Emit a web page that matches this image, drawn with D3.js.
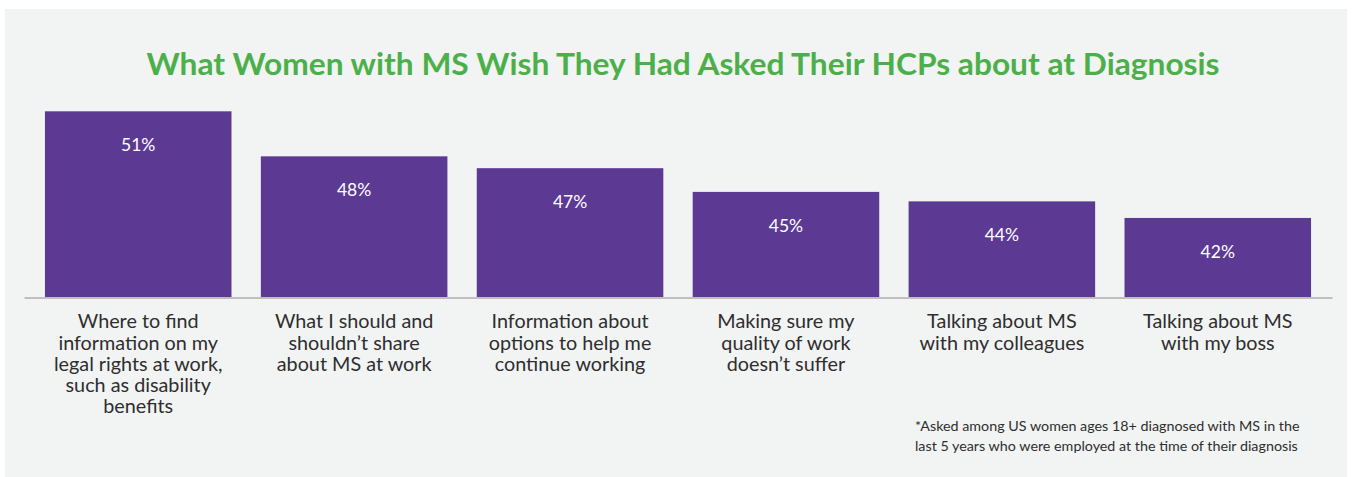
<!DOCTYPE html>
<html>
<head>
<meta charset="utf-8">
<script src="https://cdn.jsdelivr.net/npm/d3@7/dist/d3.min.js"></script>
<style>
  html, body { margin: 0; padding: 0; background: #ffffff; }
  svg { display: block; }
  text { font-family: Lato, "Open Sans", "DejaVu Sans", sans-serif; }
</style>
</head>
<body>
<svg id="chart" width="1359" height="477"></svg>
<script>
// ---- data ----
const title = "What Women with MS Wish They Had Asked Their HCPs about at Diagnosis";
const categories = [
  "Where to find\ninformation on my\nlegal rights at work,\nsuch as disability\nbenefits",
  "What I should and\nshouldn\u2019t share\nabout MS at work",
  "Information about\noptions to help me\ncontinue working",
  "Making sure my\nquality of work\ndoesn\u2019t suffer",
  "Talking about MS\nwith my colleagues",
  "Talking about MS\nwith my boss"
];
const values = [51.4, 47.6, 46.6, 44.6, 43.8, 42.4];
const footnote = [
  "*Asked among US women ages 18+ diagnosed with MS in the",
  "last 5 years who were employed at the time of their diagnosis"
];

// ---- layout ----
const W = 1359, H = 477;
const svg = d3.select("#chart");

svg.append("rect")
  .attr("x", 5).attr("y", 9)
  .attr("width", 1342).attr("height", H - 9)
  .attr("fill", "#f2f3f3");

const baseY = 297;
const x = d3.scaleBand()
  .domain(categories)
  .range([24, 1332])
  .paddingInner(0.136)
  .paddingOuter(0.097);

const y = d3.scaleLinear()
  .domain([35.73, 52])
  .range([baseY, baseY - (52 - 35.73) * 11.85]);

// title
const t = svg.append("text")
  .attr("x", 683)
  .attr("y", 75)
  .attr("text-anchor", "middle")
  .attr("fill", "#4cb04a")
  .attr("font-weight", "bold")
  .attr("font-size", 30)
  .text(title);
const tl = t.node().getComputedTextLength();
if (Math.abs(tl - 1073) > 4) {
  t.attr("textLength", 1073).attr("lengthAdjust", "spacingAndGlyphs");
}

// bars
svg.append("g").selectAll("rect")
  .data(values)
  .join("rect")
  .attr("x", (d, i) => x(categories[i]))
  .attr("y", d => y(d))
  .attr("width", x.bandwidth())
  .attr("height", d => baseY - y(d))
  .attr("fill", "#5c3a93");

// value labels
const fmt = d3.format(".0f");
svg.append("g").selectAll("text")
  .data(values)
  .join("text")
  .attr("x", (d, i) => x(categories[i]) + x.bandwidth() / 2)
  .attr("y", d => y(d) + 40)
  .attr("text-anchor", "middle")
  .attr("fill", "#ffffff")
  .attr("font-size", 17.5)
  .text(d => fmt(d) + "%");

// axis
const axis = svg.append("g")
  .attr("transform", `translate(0,${baseY + 0.5})`)
  .call(d3.axisBottom(x).tickSize(0).tickSizeOuter(0));
axis.select(".domain")
  .attr("stroke", "#bfbfbf")
  .attr("stroke-width", 2);
axis.selectAll(".tick text").remove();
axis.selectAll(".tick").append("text")
  .attr("fill", "#2e2e2e")
  .attr("font-size", 19.8)
  .attr("text-anchor", "middle")
  .attr("y", 30.8)
  .each(function(d) {
    const lines = d.split("\n");
    const sel = d3.select(this);
    lines.forEach((ln, i) => {
      sel.append("tspan")
        .attr("x", 0)
        .attr("dy", i === 0 ? 0 : 21.2)
        .text(ln);
    });
  });

// footnote
svg.append("g").selectAll("text")
  .data(footnote)
  .join("text")
  .attr("x", 915)
  .attr("y", (d, i) => 431 + i * 20)
  .attr("fill", "#2e2e2e")
  .attr("font-size", 14.3)
  .text(d => d);
</script>
</body>
</html>
